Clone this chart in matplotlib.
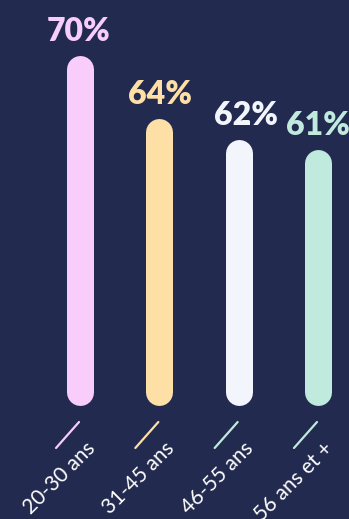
import matplotlib.pyplot as plt

categories = ["20-30 ans", "31-45 ans", "46-55 ans", "56 ans et +"]
values = [70, 64, 62, 61]
labels = ["70%", "64%", "62%", "61%"]
bar_colors = ["#f8cdfc", "#fee0a6", "#f3f5fd", "#bfeadd"]
text_colors = ["#f8cdfc", "#fee0a6", "#f3f5fd", "#bfeadd"]
tick_colors = ["#f8cdfc", "#fee0a6", "#bfeadd", "#bfeadd"]

bg = "#232a4f"
W, H = 349, 519
fig = plt.figure(figsize=(W / 100, H / 100), dpi=100, facecolor=bg)

# x: category centres at 80, 159, 238, 318 px
xl = (-80 / 79.3, 3 + 31 / 79.3)
base = 39.2

ax = fig.add_axes([0, (H - 391.5) / H, 1, 391.5 / H])
ax.set_facecolor("none")
ax.set_xlim(*xl)
ax.set_ylim(base, 76.55)
ax.axis("off")

bw = 27 * 0.72  # bar width in points
label_dx = [-1, 1, 7, 0]
for i, v in enumerate(values):
    ax.plot([i, i], [base, v], color=bar_colors[i], linewidth=bw,
            solid_capstyle="round", clip_on=False)
    ax.annotate(labels[i], (i, v), xytext=(label_dx[i], 37),
                textcoords="offset pixels", ha="center", va="center",
                color=text_colors[i], fontsize=23, fontweight="heavy",
                family=["Lato", "DejaVu Sans"])

# overlay in pixel rows for the slanted ticks and category labels
ov = fig.add_axes([0, 0, 1, 1])
ov.set_facecolor("none")
ov.set_xlim(*xl)
ov.set_ylim(H, 0)
ov.axis("off")

px = 1 / 79.3
for i, c in enumerate(categories):
    ov.plot([i - 24 * px, i - 1 * px], [448, 422], color=tick_colors[i],
            linewidth=1.6, solid_capstyle="round")
    ov.text(i + 5 * px, 438, c, rotation=45, rotation_mode="anchor",
            ha="right", va="top", color="white", fontsize=15,
            family=["Lato", "DejaVu Sans"])

fig.savefig("out.png", dpi=100, facecolor=bg)
